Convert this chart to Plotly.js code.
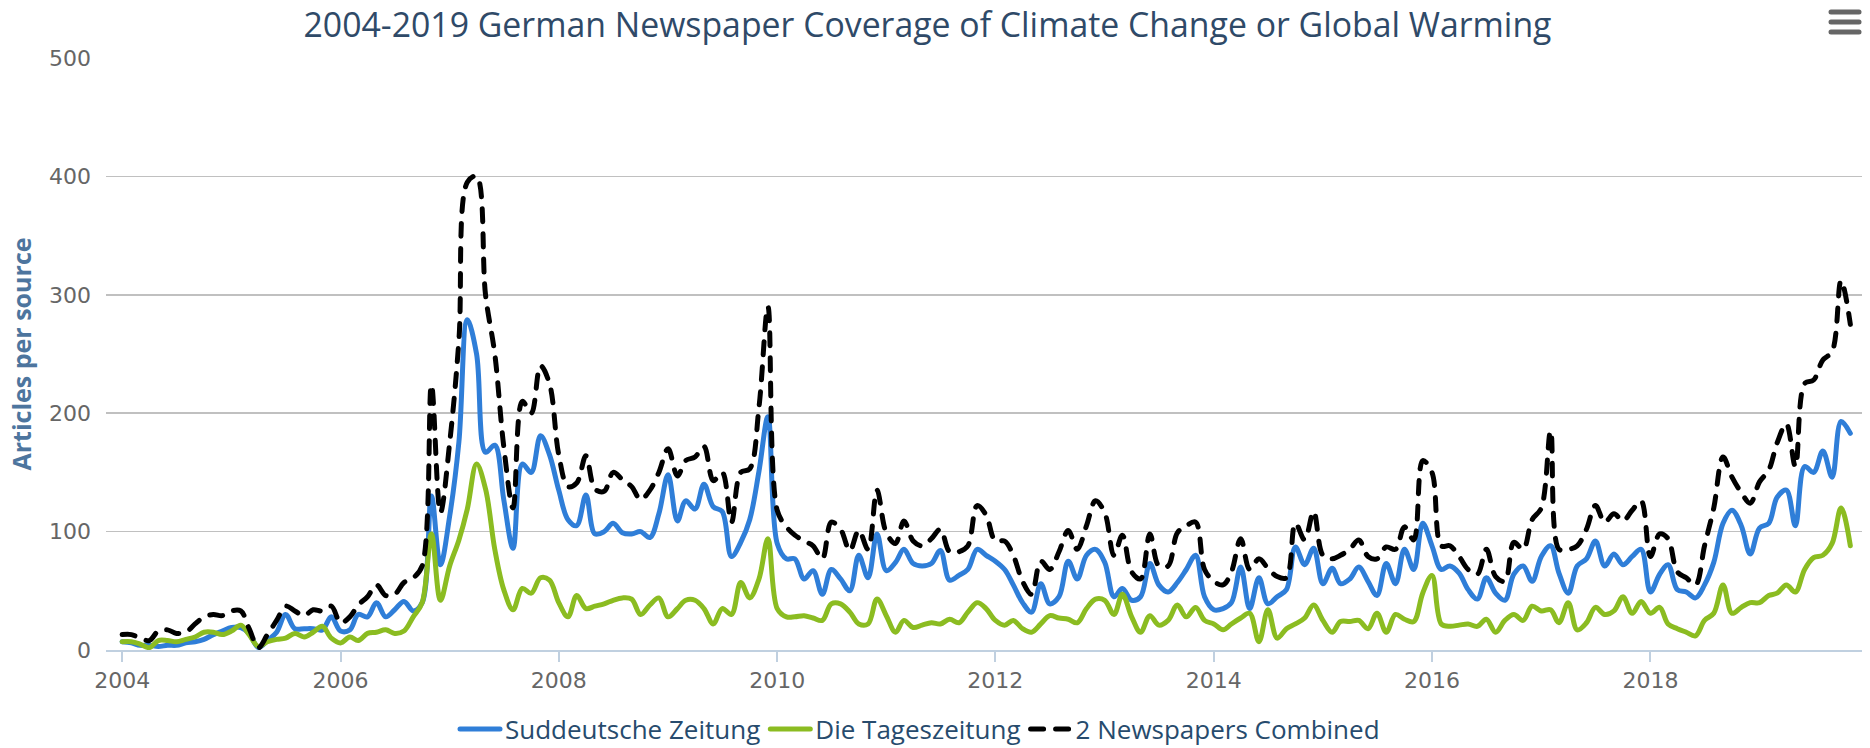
<!DOCTYPE html>
<html>
<head>
<meta charset="utf-8">
<script src="https://cdn.plot.ly/plotly-3.0.1.min.js"></script>
<style>
  html, body { margin: 0; padding: 0; background: #ffffff; }
  #chart { width: 1870px; height: 748px; }
  .scatterlayer path.js-line, .legend path.js-line, .shapelayer path { stroke-linecap: round; stroke-linejoin: round; }
</style>
</head>
<body>
<div id="chart"></div>
<script>
// ---- Data (monthly, Jan 2004 - Nov 2019) ----
const firstYear = 2004;
const seriesNames = ["Suddeutsche Zeitung", "Die Tageszeitung", "2 Newspapers Combined"];

const suddeutsche = [
  7, 6, 4, 4, 3, 4, 4, 6, 7, 9, 13, 16,
  19, 19, 14, 2, 8, 15, 30, 18, 18, 18, 17, 28,
  16, 17, 30, 28, 40, 28, 34, 41, 33, 40, 130, 72,
  113, 176, 279, 250, 167, 173, 127, 86, 157, 150, 181, 165,
  135, 110, 105, 131, 98, 100, 107, 99, 98, 100, 95, 115,
  148, 109, 126, 119, 140, 121, 117, 79, 91, 110, 151, 197,
  90, 77, 77, 60, 67, 47, 68, 60, 50, 80, 61, 98,
  67, 74, 85, 73, 71, 73, 84, 59, 63, 68, 85, 80,
  75, 68, 55, 40, 32, 56, 39, 45, 75, 60, 80, 85,
  74, 45, 52, 42, 45, 73, 55, 49, 57, 68, 80, 45,
  34, 35, 40, 70, 35, 61, 39, 45, 51, 87, 72, 86,
  56, 69, 56, 60, 70, 58, 46, 73, 56, 85, 68, 107,
  88, 68, 71, 65, 51, 43, 61, 48, 42, 64, 71, 58,
  79, 88, 65, 48, 71, 77, 92, 71, 81, 72, 79, 85,
  49, 64, 72, 51, 49, 44, 55, 74, 107, 118, 105, 81,
  103, 107, 129, 135, 105, 155, 150, 168, 146, 193, 183
];

const tageszeitung = [
  7, 7, 5, 2, 8, 8, 7, 9, 11, 15, 15, 13,
  16, 21, 13, 3, 7, 9, 10, 14, 11, 15, 20, 10,
  6, 11, 8, 14, 15, 17, 14, 16, 28, 40, 98, 42,
  71, 93, 119, 157, 136, 85, 51, 34, 52, 48, 61, 59,
  40, 28, 46, 35, 37, 39, 42, 44, 43, 30, 38, 44,
  28, 35, 42, 42, 35, 22, 35, 30, 57, 44, 60, 94,
  35, 28, 28, 29, 27, 25, 39, 39, 32, 22, 22, 43,
  29, 15, 25, 19, 21, 23, 22, 26, 23, 32, 40, 35,
  25, 21, 25, 18, 15, 22, 29, 27, 26, 23, 35, 43,
  42, 30, 47, 28, 15, 29, 21, 25, 38, 28, 36, 25,
  22, 17, 22, 27, 31, 7, 34, 10, 18, 22, 27, 38,
  25, 15, 24, 24, 25, 18, 31, 15, 30, 26, 24, 48,
  63, 22, 20, 21, 22, 20, 26, 15, 25, 30, 25, 37,
  33, 34, 23, 40, 17, 23, 36, 30, 33, 45, 31, 41,
  31, 36, 22, 18, 15, 12, 25, 31, 55, 31, 36, 40,
  40, 46, 48, 55, 49, 68, 78, 80, 90, 120, 88
];

const combined = [
  13, 13, 10, 8, 16, 17, 14, 15, 22, 28, 30, 29,
  33, 33, 18, 2, 13, 25, 37, 33, 29, 34, 33, 37,
  23, 28, 38, 45, 55, 46, 47, 57, 61, 71, 224, 116,
  175, 262, 395, 400, 300, 250, 172, 120, 210, 200, 240, 225,
  165, 138, 141, 164, 136, 134, 150, 144, 138, 127, 135, 150,
  170, 147, 160, 163, 172, 143, 150, 108, 150, 153, 205, 290,
  118, 104, 97, 92, 88, 77, 108, 102, 84, 101, 85, 135,
  99, 90, 109, 92, 88, 94, 102, 83, 83, 88, 122, 114,
  92, 92, 80, 58, 47, 75, 68, 83, 101, 85, 105, 126,
  116, 80, 97, 66, 60, 98, 71, 71, 99, 105, 108, 68,
  58, 55, 66, 94, 68, 77, 69, 62, 61, 107, 93, 117,
  80, 77, 80, 85, 93, 79, 77, 87, 85, 104, 93, 160,
  150, 88, 88, 79, 68, 64, 85, 62, 58, 91, 85, 110,
  120, 185, 85, 85, 88, 102, 122, 108, 115, 109, 118, 126,
  79, 98, 94, 66, 61, 55, 88, 120, 163, 146, 133, 124,
  142, 152, 175, 191, 155, 225, 228, 245, 252, 312, 275
];

const xTickYears = [2004, 2006, 2008, 2010, 2012, 2014, 2016, 2018];
const yTickValues = [0, 100, 200, 300, 400, 500];

// month dates for the category axis
const months = suddeutsche.map((_, i) => {
  const y = firstYear + Math.floor(i / 12);
  const m = (i % 12) + 1;
  return y + "-" + String(m).padStart(2, "0") + "-01";
});

const lineBase = { shape: "spline", smoothing: 1, width: 5 };

const traces = [
  { x: months, y: suddeutsche, name: seriesNames[0], type: "scatter", mode: "lines",
    line: Object.assign({}, lineBase, { color: "#2f7ed8" }) },
  { x: months, y: tageszeitung, name: seriesNames[1], type: "scatter", mode: "lines",
    line: Object.assign({}, lineBase, { color: "#8bbc21" }) },
  { x: months, y: combined, name: seriesNames[2], type: "scatter", mode: "lines",
    line: Object.assign({}, lineBase, { color: "#000000", dash: "13px,12px" }) }
];

// plot-area geometry helpers (pixels -> paper)
const L = 106, R = 1862, T = 58, B = 650;
const px = v => (v - L) / (R - L);
const py = v => (B - v) / (B - T);

const menuShapes = [12, 22, 32].map(yy => ({
  type: "line", xref: "paper", yref: "paper",
  x0: px(1831), x1: px(1859), y0: py(yy), y1: py(yy),
  line: { color: "#666666", width: 5 }
}));

const layout = {
  width: 1870, height: 748,
  margin: { l: L, r: 1870 - R, t: T, b: 748 - B, autoexpand: false },
  paper_bgcolor: "#ffffff", plot_bgcolor: "#ffffff",
  hovermode: false,
  title: {
    text: "2004-2019 German Newspaper Coverage of Climate Change or Global Warming",
    font: { family: "Open Sans", size: 33.8, color: "#2f4a68" },
    xref: "container", x: 0.496, xanchor: "center",
    yref: "container", y: 1 - 25 / 748, yanchor: "middle"
  },
  xaxis: {
    type: "date",
    range: ["2003-11-08", "2019-12-10"],
    tickvals: xTickYears.map(y => y + "-01-01"),
    ticktext: xTickYears.map(String),
    showgrid: false, zeroline: false,
    showline: true, linecolor: "#C0D0E0", linewidth: 2,
    ticks: "outside", ticklen: 10, tickwidth: 2, tickcolor: "#C0D0E0",
    tickfont: { family: "DejaVu Sans", size: 22, color: "#666666" }
  },
  yaxis: {
    range: [0, 500],
    tickvals: yTickValues,
    ticktext: yTickValues.map(String),
    showgrid: true, gridcolor: "#C0C0C0", gridwidth: 1.5,
    zeroline: false, showline: false, ticks: "",
    ticklabelstandoff: 14,
    tickfont: { family: "DejaVu Sans", size: 22, color: "#666666" },
    title: {
      text: "Articles per source",
      font: { family: "Open Sans", size: 25, color: "#4d759e", weight: "bold" },
      standoff: 10
    }
  },
  showlegend: true,
  legend: {
    orientation: "h",
    x: px(920), xanchor: "center",
    y: py(729), yanchor: "middle",
    font: { family: "Open Sans", size: 26, color: "#274b6d" },
    itemwidth: 40,
    traceorder: "normal",
    bgcolor: "rgba(0,0,0,0)"
  },
  shapes: menuShapes
};

Plotly.newPlot("chart", traces, layout, { displayModeBar: false, staticPlot: true });
</script>
</body>
</html>
